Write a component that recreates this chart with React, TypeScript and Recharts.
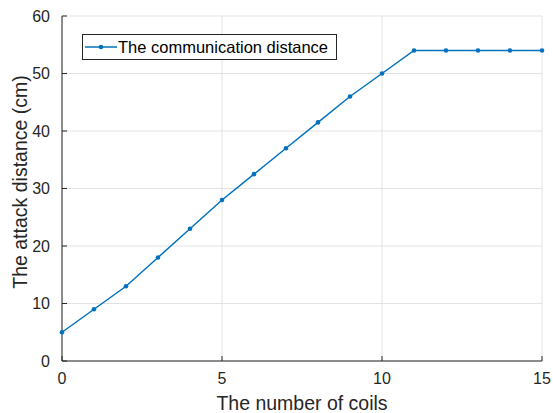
import { CartesianGrid, Line, LineChart, XAxis, YAxis } from "recharts"

// values
const coils = [0, 1, 2, 3, 4, 5, 6, 7, 8, 9, 10, 11, 12, 13, 14, 15]
const distance = [5, 9, 13, 18, 23, 28, 32.5, 37, 41.5, 46, 50, 54, 54, 54, 54, 54]
const xTicks = [0, 5, 10, 15]
const yTicks = [0, 10, 20, 30, 40, 50, 60]

const seriesName = "The communication distance"
const xLabel = "The number of coils"
const yLabel = "The attack distance (cm)"

const data = coils.map((c, i) => ({ coils: c, distance: distance[i] }))

const FONT = '"Liberation Sans", Arial, sans-serif'
const INK = "#262626"
const BLUE = "#0072BD"

const LegendBox = () => (
  <div
    style={{
      position: "absolute",
      left: 82,
      top: 34,
      display: "flex",
      alignItems: "center",
      border: `1px solid ${INK}`,
      background: "#fff",
      width: 255,
      height: 26,
      boxSizing: "border-box",
      fontFamily: FONT,
      fontSize: 16.5,
      color: "#000",
    }}
  >
    <svg width={33} height={10} style={{ marginLeft: 1 }}>
      <line x1={1} y1={5} x2={33} y2={5} stroke={BLUE} strokeWidth={1.5} />
      <circle cx={17} cy={5} r={2.3} fill={BLUE} />
    </svg>
    <span style={{ marginLeft: 1 }}>{seriesName}</span>
  </div>
)

export default function App() {
  return (
    <div style={{ position: "relative", width: 553, height: 413, background: "#fff" }}>
      <style>{`body { margin: 0; }`}</style>
      <LineChart
        width={553}
        height={413}
        data={data}
        margin={{ top: 16, right: 11, left: 12, bottom: 12 }}
        style={{ fontFamily: FONT }}
      >
        <CartesianGrid stroke="#e3e3e3" strokeWidth={1} />
        <XAxis
          dataKey="coils"
          type="number"
          domain={[0, 15]}
          ticks={xTicks}
          interval={0}
          height={40}
          tickSize={-5}
          tickMargin={17}
          stroke={INK}
          tick={{ fill: INK, fontSize: 16 }}
          label={{
            content: ({ viewBox }: any) => (
              <text
                x={viewBox.x + viewBox.width / 2}
                y={viewBox.y + 49}
                textAnchor="middle"
                fill={INK}
                fontSize={19.5}
              >
                {xLabel}
              </text>
            ),
          }}
        />
        <XAxis
          xAxisId="top"
          dataKey="coils"
          type="number"
          orientation="top"
          domain={[0, 15]}
          ticks={xTicks}
          height={0}
          tickSize={-5}
          tick={false}
          stroke={INK}
        />
        <YAxis
          type="number"
          domain={[0, 60]}
          ticks={yTicks}
          interval={0}
          width={50}
          tickSize={-5}
          tickMargin={17}
          stroke={INK}
          tick={{ fill: INK, fontSize: 16 }}
          label={{
            content: () => {
              const cx = 27
              const cy = 182
              return (
                <text
                  x={cx}
                  y={cy}
                  textAnchor="middle"
                  transform={`rotate(-90, ${cx}, ${cy})`}
                  fill={INK}
                  fontSize={19.5}
                >
                  {yLabel}
                </text>
              )
            },
          }}
        />
        <YAxis
          yAxisId="right"
          type="number"
          orientation="right"
          domain={[0, 60]}
          ticks={yTicks}
          width={0}
          tickSize={-5}
          tick={false}
          stroke={INK}
        />
        <Line
          dataKey="distance"
          name={seriesName}
          stroke={BLUE}
          strokeWidth={1.5}
          dot={{ r: 2.3, fill: BLUE, stroke: BLUE, strokeWidth: 0 }}
          activeDot={false}
          isAnimationActive={false}
        />
      </LineChart>
      <LegendBox />
    </div>
  )
}
